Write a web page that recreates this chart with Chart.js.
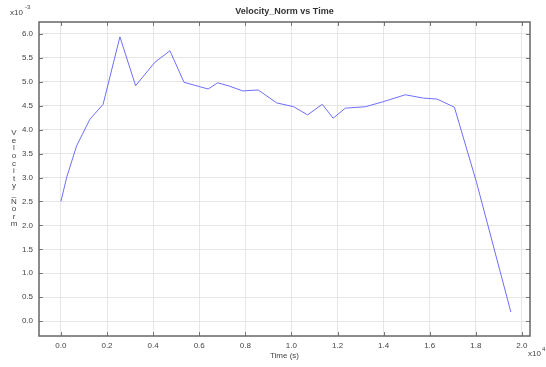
<!DOCTYPE html>
<html>
<head>
<meta charset="utf-8">
<script src="https://cdn.jsdelivr.net/npm/chart.js@4.4.1/dist/chart.umd.min.js"></script>
<style>
  html, body { margin: 0; padding: 0; background: #ffffff; }
  canvas { display: block; }
</style>
</head>
<body>
<canvas id="chart" width="546" height="367"></canvas>
<script>
// Time in units of 1e4 s, velocity norm in units of 1e-3
const timeE4 = [0, 0.026, 0.068, 0.126, 0.183, 0.256, 0.324, 0.408, 0.473, 0.534,
  0.639, 0.680, 0.731, 0.789, 0.856, 0.936, 1.010, 1.070, 1.134, 1.181,
  1.234, 1.321, 1.395, 1.494, 1.572, 1.632, 1.707, 1.803, 1.952];
const velocityEm3 = [2.50, 3.02, 3.66, 4.22, 4.53, 5.94, 4.92, 5.41, 5.65, 4.99,
  4.85, 4.98, 4.91, 4.81, 4.83, 4.56, 4.48, 4.31, 4.53, 4.24,
  4.45, 4.48, 4.58, 4.73, 4.66, 4.64, 4.47, 2.90, 0.19];
const xTicks = [0.0, 0.2, 0.4, 0.6, 0.8, 1.0, 1.2, 1.4, 1.6, 1.8, 2.0];
const yTicks = [0.0, 0.5, 1.0, 1.5, 2.0, 2.5, 3.0, 3.5, 4.0, 4.5, 5.0, 5.5, 6.0];

const chartTitle = 'Velocity_Norm vs Time';
const xTitle = 'Time (s)';
const yTitle = 'Velocity_Norm';

const FONT = '"Liberation Sans", Arial, sans-serif';
const TEXT_COLOR = '#444444';

const framePlugin = {
  id: 'frame',
  afterDraw(chart) {
    const { ctx, chartArea: a, scales } = chart;
    ctx.save();
    // tick marks pointing inward on all four sides
    ctx.strokeStyle = '#777777';
    ctx.lineWidth = 1;
    ctx.beginPath();
    xTicks.forEach(v => {
      const px = Math.round(scales.x.getPixelForValue(v)) + 0.5;
      ctx.moveTo(px, a.bottom); ctx.lineTo(px, a.bottom - 4);
      ctx.moveTo(px, a.top); ctx.lineTo(px, a.top + 4);
    });
    yTicks.forEach(v => {
      const py = Math.round(scales.y.getPixelForValue(v)) + 0.5;
      ctx.moveTo(a.left, py); ctx.lineTo(a.left + 4, py);
      ctx.moveTo(a.right, py); ctx.lineTo(a.right - 4, py);
    });
    ctx.stroke();
    // plot frame
    ctx.strokeStyle = '#666666';
    ctx.lineWidth = 1.5;
    ctx.strokeRect(a.left, a.top, a.right - a.left, a.bottom - a.top);

    // title
    ctx.fillStyle = '#333333';
    ctx.font = 'bold 9px ' + FONT;
    ctx.textAlign = 'center';
    ctx.textBaseline = 'middle';
    ctx.fillText(chartTitle, (a.left + a.right) / 2, 12);

    // x axis title
    ctx.fillStyle = TEXT_COLOR;
    ctx.font = '8px ' + FONT;
    ctx.fillText(xTitle, (a.left + a.right) / 2, 356);

    // y axis title, letters stacked vertically
    const chars = Array.from(yTitle);
    chars.forEach((ch, i) => {
      ctx.fillText(ch, 14, 133 + i * 7.6);
    });

    // exponent markers
    ctx.textAlign = 'left';
    ctx.font = '8px ' + FONT;
    ctx.fillText('x10', 10, 13);
    ctx.fillText('x10', 528, 354);
    ctx.font = '6px ' + FONT;
    ctx.fillText('-3', 25, 7);
    ctx.fillText('4', 542, 349);
    ctx.restore();
  }
};

new Chart(document.getElementById('chart'), {
  type: 'line',
  data: {
    datasets: [{
      data: timeE4.map((t, i) => ({ x: t, y: velocityEm3[i] })),
      borderColor: '#6e6eff',
      borderWidth: 1,
      pointRadius: 0,
      tension: 0,
      fill: false
    }]
  },
  options: {
    responsive: false,
    animation: false,
    devicePixelRatio: 1,
    layout: { padding: { top: 22, right: 16, left: 0, bottom: 0 } },
    plugins: { legend: { display: false }, tooltip: { enabled: false } },
    scales: {
      x: {
        type: 'linear',
        min: -0.095,
        max: 2.035,
        afterBuildTicks: s => { s.ticks = xTicks.map(v => ({ value: v })); },
        afterFit: s => { s.height = 31; },
        ticks: {
          callback: v => Number(v).toFixed(1),
          font: { size: 8, family: FONT },
          color: TEXT_COLOR,
          padding: 5,
          maxRotation: 0,
          autoSkip: false
        },
        grid: { color: '#e6e6e6', drawTicks: false },
        border: { display: false }
      },
      y: {
        type: 'linear',
        min: -0.31,
        max: 6.25,
        afterBuildTicks: s => { s.ticks = yTicks.map(v => ({ value: v })); },
        afterFit: s => { s.width = 39; },
        ticks: {
          callback: v => Number(v).toFixed(1),
          font: { size: 8, family: FONT },
          color: TEXT_COLOR,
          padding: 6,
          autoSkip: false
        },
        grid: { color: '#e6e6e6', drawTicks: false },
        border: { display: false }
      }
    }
  },
  plugins: [framePlugin]
});
</script>
</body>
</html>
